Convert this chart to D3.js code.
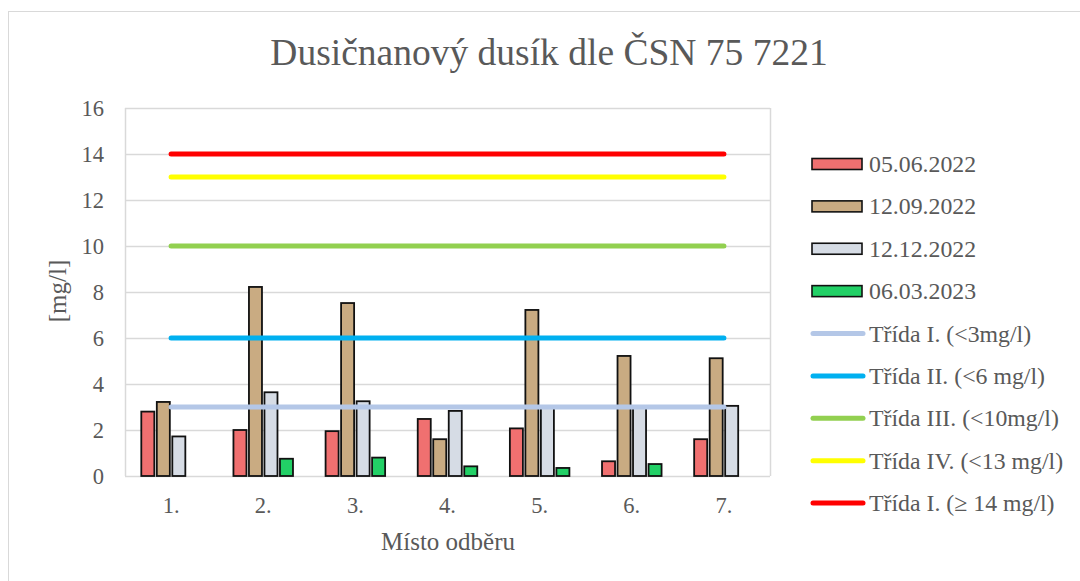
<!DOCTYPE html>
<html>
<head>
<meta charset="utf-8">
<script src="https://cdn.jsdelivr.net/npm/d3@7"></script>
<style>
  body { margin: 0; background: #fff; }
</style>
</head>
<body>
<svg id="chart" width="1080" height="581" font-family="'Liberation Serif', 'DejaVu Serif', serif"></svg>
<script>
// data
const places = ["1.", "2.", "3.", "4.", "5.", "6.", "7."];
const dates = ["05.06.2022", "12.09.2022", "12.12.2022", "06.03.2023"];
const v0506 = [2.8, 2.0, 1.95, 2.48, 2.07, 0.64, 1.6];
const v1209 = [3.22, 8.22, 7.52, 1.6, 7.22, 5.22, 5.12];
const v1212 = [1.72, 3.64, 3.25, 2.83, 3.0, 3.0, 3.05];
const v0603 = [0, 0.75, 0.8, 0.42, 0.35, 0.52, 0];
const barColors = ["#F07070", "#C9AB82", "#D6DCE5", "#22D066"];

const limitNames = ["Třída I. (<3mg/l)", "Třída II. (<6 mg/l)", "Třída III. (<10mg/l)", "Třída IV. (<13 mg/l)", "Třída I. (≥ 14 mg/l)"];
const limitValues = [3, 6, 10, 13, 14];
const limitColors = ["#B4C7E7", "#00B0F0", "#92D050", "#FFFF00", "#FF0000"];
const yTicks = [0, 2, 4, 6, 8, 10, 12, 14, 16];

const series = [v0506, v1209, v1212, v0603];
const txt = "#595959";

const svg = d3.select("#chart");
const plot = {left: 125, right: 770, top: 108, bottom: 476};

// outer chart border
svg.append("rect")
  .attr("x", 8.5).attr("y", 11.5)
  .attr("width", 1100).attr("height", 620)
  .attr("fill", "none").attr("stroke", "#d9d9d9");

const y = d3.scaleLinear().domain([0, 16]).range([plot.bottom, plot.top]);
const x0 = d3.scaleBand().domain(places).range([plot.left, plot.right])
  .paddingInner(0.3).paddingOuter(0.15);
const x1 = d3.scaleBand().domain(d3.range(dates.length)).range([0, x0.bandwidth()])
  .padding(0.16);
const xc = d => x0(d) + x0.bandwidth() / 2;

// grid
svg.append("g").selectAll("line").data(yTicks).join("line")
  .attr("x1", plot.left).attr("x2", plot.right)
  .attr("y1", d => Math.round(y(d)) + 0.5).attr("y2", d => Math.round(y(d)) + 0.5)
  .attr("stroke", "#d9d9d9").attr("stroke-width", 1.5);
svg.append("line")
  .attr("x1", plot.left + 0.5).attr("x2", plot.left + 0.5)
  .attr("y1", plot.top).attr("y2", plot.bottom)
  .attr("stroke", "#d9d9d9").attr("stroke-width", 1.5);
svg.append("line")
  .attr("x1", plot.right + 0.5).attr("x2", plot.right + 0.5)
  .attr("y1", plot.top).attr("y2", plot.bottom)
  .attr("stroke", "#d9d9d9").attr("stroke-width", 1.5);

// y tick labels
svg.append("g").selectAll("text").data(yTicks).join("text")
  .attr("x", 104).attr("y", d => y(d) + 8)
  .attr("text-anchor", "end").attr("font-size", 22.5).attr("fill", txt)
  .text(d => d);

// bars
series.forEach((vals, i) => {
  svg.append("g").selectAll("rect").data(places).join("rect")
    .attr("x", d => x0(d) + x1(i))
    .attr("width", x1.bandwidth())
    .attr("y", (d, j) => y(vals[j]))
    .attr("height", (d, j) => y(0) - y(vals[j]))
    .attr("fill", barColors[i])
    .attr("stroke", "#111")
    .attr("stroke-width", 1.8)
    .style("display", (d, j) => vals[j] > 0 ? null : "none");
});

// limit lines
limitValues.forEach((v, i) => {
  svg.append("line")
    .attr("x1", xc(places[0])).attr("x2", xc(places[places.length - 1]))
    .attr("y1", y(v)).attr("y2", y(v))
    .attr("stroke", limitColors[i]).attr("stroke-width", 5)
    .attr("stroke-linecap", "round");
});

// x labels
svg.append("g").selectAll("text").data(places).join("text")
  .attr("x", d => xc(d)).attr("y", 513)
  .attr("text-anchor", "middle").attr("font-size", 22.5).attr("fill", txt)
  .text(d => d);

svg.append("text")
  .attr("x", 448).attr("y", 550)
  .attr("text-anchor", "middle").attr("font-size", 25).attr("fill", txt)
  .text("Místo odběru");

svg.append("text")
  .attr("transform", "translate(66,291) rotate(-90)")
  .attr("text-anchor", "middle").attr("font-size", 25).attr("fill", txt)
  .text("[mg/l]");

// title
svg.append("text")
  .attr("x", 549).attr("y", 65)
  .attr("text-anchor", "middle").attr("font-size", 37.5).attr("fill", txt)
  .text("Dusičnanový dusík dle ČSN 75 7221");

// legend
const legendY = d3.scaleLinear().domain([0, 8]).range([164, 503]);
dates.forEach((d, i) => {
  const cy = legendY(i);
  svg.append("rect")
    .attr("x", 812).attr("y", cy - 5.5)
    .attr("width", 50).attr("height", 11)
    .attr("fill", barColors[i]).attr("stroke", "#111").attr("stroke-width", 1.6);
  svg.append("text").attr("x", 869).attr("y", cy + 8)
    .attr("font-size", 23.8).attr("fill", txt).text(d);
});
limitNames.forEach((d, i) => {
  const cy = legendY(i + 4);
  svg.append("line")
    .attr("x1", 813).attr("x2", 863).attr("y1", cy).attr("y2", cy)
    .attr("stroke", limitColors[i]).attr("stroke-width", 5)
    .attr("stroke-linecap", "round");
  svg.append("text").attr("x", 869).attr("y", cy + 8)
    .attr("font-size", 23.8).attr("fill", txt).text(d);
});
</script>
</body>
</html>
